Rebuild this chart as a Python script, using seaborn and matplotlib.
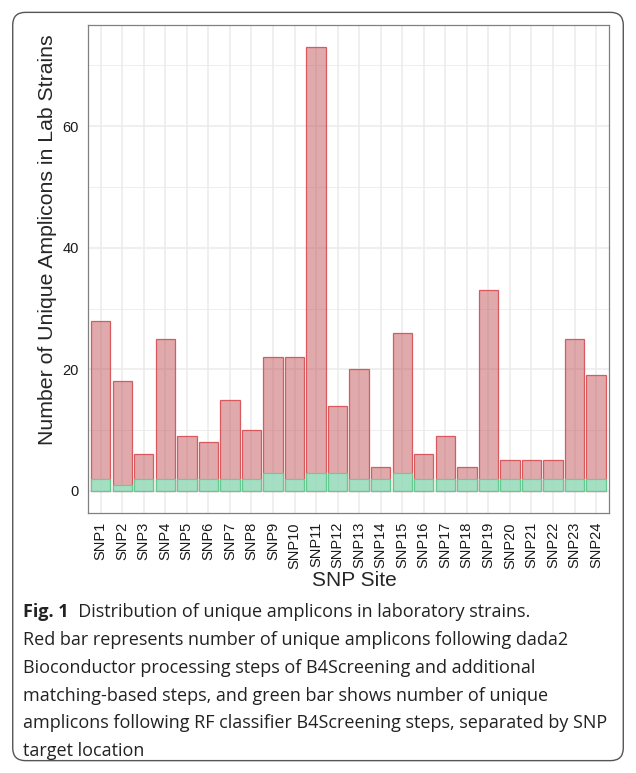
import matplotlib
matplotlib.use("Agg")
import matplotlib.pyplot as plt
from matplotlib.patches import FancyBboxPatch
from matplotlib.ticker import MultipleLocator
import pandas as pd
import seaborn as sns

snp_sites = ["SNP%d" % i for i in range(1, 25)]
dada2_counts = [28, 18, 6, 25, 9, 8, 15, 10, 22, 22, 73, 14,
                20, 4, 26, 6, 9, 4, 33, 5, 5, 5, 25, 19]
rf_counts = [2, 1, 2, 2, 2, 2, 2, 2, 3, 2, 3, 3,
             2, 2, 3, 2, 2, 2, 2, 2, 2, 2, 2, 2]

caption_bold = "Fig. 1"
caption_first = "  Distribution of unique amplicons in laboratory strains."
caption_rest = ("Red bar represents number of unique amplicons following dada2\n"
                "Bioconductor processing steps of B4Screening and additional\n"
                "matching-based steps, and green bar shows number of unique\n"
                "amplicons following RF classifier B4Screening steps, separated by SNP\n"
                "target location")

df = pd.DataFrame({"site": snp_sites, "dada2": dada2_counts, "rf": rf_counts})

sns.set_theme(style="white")
plt.rcParams["font.family"] = ["Liberation Sans", "DejaVu Sans"]
cap_font = ["Open Sans", "DejaVu Sans"]

fig = plt.figure(figsize=(6.36, 7.73), dpi=100)
ax = fig.add_axes([0.138, 0.3363, 0.8195, 0.6314])

sns.barplot(data=df, x="site", y="dada2", color="#C35559", width=0.9, ax=ax, zorder=2)
n_red = len(ax.patches)
sns.barplot(data=df, x="site", y="rf", color="#92F2CC", width=0.9, ax=ax, zorder=3)

for i, p in enumerate(ax.patches):
    if i < n_red:
        p.set_facecolor((0.765, 0.333, 0.349, 0.5))
        p.set_edgecolor((0.84, 0.30, 0.32, 0.9))
    else:
        p.set_facecolor((0.573, 0.949, 0.80, 0.75))
        p.set_edgecolor((0.36, 0.82, 0.58, 0.9))
    p.set_linewidth(0.9)

ax.set_xlim(-0.6, 23.6)
ax.set_ylim(-3.65, 76.65)
ax.yaxis.set_major_locator(MultipleLocator(20))
ax.yaxis.set_minor_locator(MultipleLocator(10))
ax.set_axisbelow(True)
ax.grid(True, which="major", axis="both", color="#EBEBEB", linewidth=1.1, zorder=0)
ax.grid(True, which="minor", axis="y", color="#EBEBEB", linewidth=0.6, zorder=0)

for s in ax.spines.values():
    s.set_color("#808080")
    s.set_linewidth(0.9)

ax.tick_params(axis="both", which="major", length=3.5, width=0.9, color="#333333",
               labelsize=10.5, labelcolor="#1a1a1a", pad=3)
ax.tick_params(axis="y", which="minor", length=0)
ax.tick_params(axis="x", labelrotation=90)
ax.set_xlabel("SNP Site", fontsize=15)
ax.xaxis.set_label_coords(0.5115, -0.118)
ax.set_ylabel("Number of Unique Amplicons in Lab Strains", fontsize=15.3, va="center")
ax.yaxis.set_label_coords(-0.077, 0.561)

box = FancyBboxPatch((0.02, 0.016), 0.96, 0.968, boxstyle="round,pad=0,rounding_size=0.02",
                     transform=fig.transFigure, facecolor="none", edgecolor="#555555",
                     linewidth=1.0, mutation_aspect=636 / 773)
fig.add_artist(box)

t1 = fig.text(0.036, 1 - 612 / 773, caption_bold, fontsize=13, fontweight="bold",
              family=cap_font, va="center", color="#222222")
fig.add_artist(matplotlib.text.Annotation(
    caption_first, xy=(1, 0), xycoords=t1, va="bottom", ha="left",
    fontsize=13, family=cap_font, color="#222222"))
fig.text(0.036, 1 - 631 / 773, caption_rest, fontsize=13, family=cap_font,
         va="top", linespacing=1.7, color="#222222")

fig.savefig("out.png", dpi=100)
